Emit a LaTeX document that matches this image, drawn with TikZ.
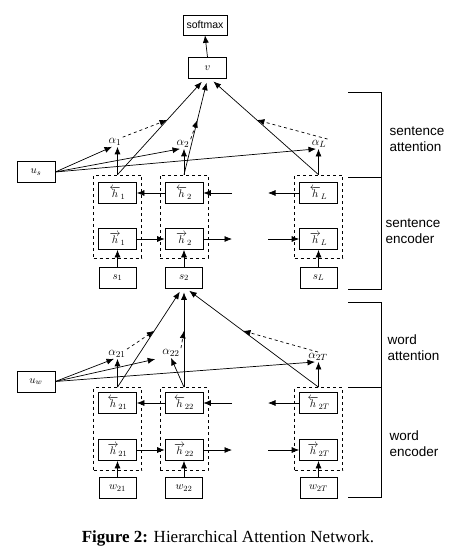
\documentclass[tikz,border=0pt]{standalone}
\usepackage{fontspec}
\setmainfont{Liberation Serif}
\setsansfont{Liberation Sans}
\usepackage{amsmath}
\usetikzlibrary{arrows.meta}

\tikzset{
	box/.style={draw,minimum width=38pt,minimum height=21pt,inner sep=0pt,font=\fontsize{11}{13}\selectfont},
	grp/.style={draw,dashed,minimum width=48pt,minimum height=83pt,inner sep=0pt},
	att/.style={inner sep=1pt,font=\fontsize{12.5}{14}\selectfont},
	arr/.style={-{Latex[length=7.5pt,width=6pt]}},
	darr/.style={arr,dashed},
	tag/.style={anchor=west,align=left,font=\sffamily\fontsize{13.5}{16}\selectfont},
}

\begin{document}
\begin{tikzpicture}[x=1pt,y=-1pt,line width=0.7pt]
				\useasboundingbox (0,0) rectangle (474,556);
				% sentence level
				\node[box,minimum width=44pt,minimum height=20pt,font=\sffamily\fontsize{10.5}{12}\selectfont] (softmax) at (205,25) {softmax};
				\node[box] (v) at (207.5,68) {$v$};
				\node[box] (us) at (36,172) {$u_s$};
				\foreach \c/\x in {1/117.5,2/184,L/318.5}
					{\node[grp] (sg\c) at (\x,216.5) {};
					 \node[box] (sb\c) at (\x,193) {$\overleftarrow{h}_{\c}$};
					 \node[box] (sf\c) at (\x,239) {$\overrightarrow{h}_{\c}$};
					 \node[box,minimum width=37pt] (s\c) at (\x,277.5) {$s_{\c}$};
					 \draw[arr] (s\c.north) -- (sf\c.south);}
				\node[att] (a1) at (115,142) {$\alpha_1$};
				\node[att] (a2) at (183,144) {$\alpha_2$};
				\node[att] (aL) at (319,144) {$\alpha_L$};
				\draw[arr] (v.north) -- (softmax.south);
				\draw[arr,shorten >=4pt] (sg1.north) -- coordinate[pos=.57] (sm1) ([xshift=-3pt]v.south);
				\draw[arr,shorten >=4pt] (sg2.north) -- coordinate[pos=.57] (sm2) (v.south);
				\draw[arr,shorten >=4pt] (sgL.north) -- coordinate[pos=.57] (smL) ([xshift=3pt]v.south);
				\foreach \c in {1,2,L}
					{\draw[arr] (sg\c.north) -- (sg\c.north |- a\c.south);
					 \draw[arr] (us.east) -- ([xshift=-3pt]a\c.south);}
				\draw[darr] (a1.north east) -- (sm1);
				\draw[darr] (a2.north east) -- (sm2);
				\draw[darr] (aL.north east) -- (smL);
				\coordinate (sbr) at (232,193); \coordinate (sbl) at (268,193);
				\coordinate (sfr) at (232,239); \coordinate (sfl) at (268,239);
				\draw[arr] (sb2.west) -- (sb1.east);
				\draw[arr] (sbr) -- (sb2.east);
				\draw[arr] (sbL.west) -- (sbl);
				\draw[arr] (sf1.east) -- (sf2.west);
				\draw[arr] (sf2.east) -- (sfr);
				\draw[arr] (sfl) -- (sfL.west);
				
				% word level
				\node[box] (uw) at (36,381.5) {$u_w$};
				\foreach \c/\x in {21/117.5,22/184,2T/318.5}
					{\node[grp] (wg\c) at (\x,429) {};
					 \node[box] (wb\c) at (\x,403) {$\overleftarrow{h}_{\c}$};
					 \node[box] (wf\c) at (\x,450) {$\overrightarrow{h}_{\c}$};
					 \node[box,minimum width=37pt] (w\c) at (\x,488) {$w_{\c}$};
					 \draw[arr] (w\c.north) -- (wf\c.south);}
				\node[att] (a21) at (117,354) {$\alpha_{21}$};
				\node[att] (a22) at (171,353) {$\alpha_{22}$};
				\node[att] (a2T) at (318,357) {$\alpha_{2T}$};
				\draw[arr,shorten >=4pt] (wg21.north) -- coordinate[pos=.57] (wm21) ([xshift=-2pt]s2.south);
				\draw[arr,shorten >=4pt] (wg22.north) -- coordinate[pos=.57] (wm22) (s2.south);
				\draw[arr,shorten >=4pt] (wg2T.north) -- coordinate[pos=.57] (wm2T) ([xshift=2pt]s2.south);
				\draw[arr] (wg21.north) -- (wg21.north |- a21.south);
				\draw[arr] (wg22.north) -- (a22.south);
				\draw[arr] (wg2T.north) -- (wg2T.north |- a2T.south);
				\draw[arr] (uw.east) -- ([xshift=-3pt]a21.south);
				\draw[arr,shorten >=6pt] (uw.east) -- (a22.south west);
				\draw[arr] (uw.east) -- ([xshift=-3pt]a2T.south);
				\draw[darr] (a21.north east) -- (wm21);
				\draw[darr] (a22.north east) -- (wm22);
				\draw[darr] (a2T.north) -- (wm2T);
				\coordinate (wbr) at (232,403); \coordinate (wbl) at (268,403);
				\coordinate (wfr) at (232,450); \coordinate (wfl) at (268,450);
				\draw[arr] (wb22.west) -- (wb21.east);
				\draw[arr] (wbr) -- (wb22.east);
				\draw[arr] (wb2T.west) -- (wbl);
				\draw[arr] (wf21.east) -- (wf22.west);
				\draw[arr] (wf22.east) -- (wfr);
				\draw[arr] (wfl) -- (wf2T.west);
				
				% brackets
				\draw (348,92) -- (381,92) -- (381,289) -- (348,289);
				\draw (348,177) -- (381,177);
				\draw (348,302) -- (381,302) -- (381,497) -- (348,497);
				\draw (348,387) -- (381,387);
				\node[tag] (satt) at (386,139) {sentence\\attention};
				\node[tag] (senc) at (382,231) {sentence\\encoder};
				\node[tag] (watt) at (384,348) {word\\attention};
				\node[tag] (wenc) at (386,444) {word\\encoder};
				
				\node[font=\fontsize{17}{20}\selectfont] (cap) at (228,538) {\textbf{Figure 2:} Hierarchical Attention Network.};
		\end{tikzpicture}
\end{document}
